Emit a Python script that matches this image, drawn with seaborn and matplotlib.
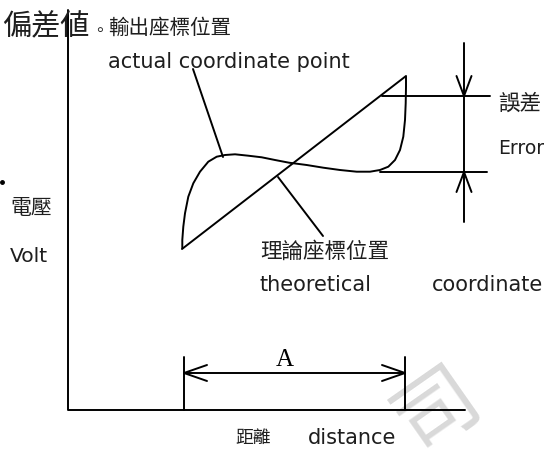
import numpy as np
import pandas as pd
import matplotlib
matplotlib.use("Agg")
import matplotlib.pyplot as plt
import seaborn as sns

# ---- diagram data (pixel-space coordinates) ----
theory_x = [182, 406]
theory_y = [249, 76]

actual_x = [182.3, 182.3, 183.3, 185.0, 188.3, 193.3, 200.0, 208.3, 216.7, 225.0,
            235.0, 248.3, 261.7, 275.0, 289.0, 306.7, 323.3, 340.0, 356.7, 370.0,
            380.0, 388.3, 395.0, 400.0, 403.3, 405.0, 405.7, 406.0, 406.0]
actual_y = [248.3, 240.0, 226.7, 213.3, 196.7, 183.3, 171.7, 161.7, 156.7, 155.0,
            154.3, 155.7, 157.3, 160.0, 162.7, 165.0, 167.7, 170.0, 171.7, 171.7,
            170.0, 166.7, 160.0, 150.0, 136.7, 120.0, 103.3, 86.7, 76.7]

axis_x = [68, 68, 465]
axis_y = [10, 410, 410]

err_x = 464
err_top, err_bottom = 96, 172
err_line_ends = (43, 222)
err_ref_top_x = [382, 490]
err_ref_bot_x = [380, 487]

dim_left, dim_right = 184, 405
dim_y = 373
dim_tick_top = 357

leader_actual = ([193, 223], [69, 157])
leader_theory = ([278, 323], [177, 236])

LW = 1.4
CJK = ["Noto Sans CJK TC", "DejaVu Sans"]
LAT = ["DejaVu Sans"]
TXT = "#1e1e1e"

sns.set_theme(style="white")
plt.rcParams["font.family"] = CJK

fig = plt.figure(figsize=(5.46, 4.49), dpi=100)
ax = fig.add_axes([0, 0, 1, 1])
ax.set_xlim(0, 546)
ax.set_ylim(449, 0)
ax.axis("off")

# watermark
ax.text(438, 409, "司", fontsize=60, color="#d9d9d9", rotation=35,
        ha="center", va="center", family=CJK, zorder=0, clip_on=True)

def seg(xs, ys):
    sns.lineplot(x=xs, y=ys, sort=False, estimator=None, color="black",
                 linewidth=LW, ax=ax, legend=False)

def head(tip_x, tip_y, dx, dy, length=20, half=7.5):
    # open V arrowhead; (dx, dy) unit direction the arrow points to
    px, py = -dy, dx
    bx, by = tip_x - dx * length, tip_y - dy * length
    seg([bx + px * half, tip_x, bx - px * half], [by + py * half, tip_y, by - py * half])

# axes
seg(axis_x, axis_y)
# theoretical line and actual curve
seg(theory_x, theory_y)
seg(actual_x, actual_y)
# leaders
seg(*leader_actual)
seg(*leader_theory)
# error dimension
seg(err_ref_top_x, [err_top, err_top])
seg(err_ref_bot_x, [err_bottom, err_bottom])
seg([err_x, err_x], [err_line_ends[0], err_line_ends[1]])
head(err_x, err_top, 0, 1, length=20, half=7.5)
head(err_x, err_bottom, 0, -1, length=20, half=7.5)
# A dimension
seg([dim_left, dim_left], [dim_tick_top, axis_y[-1]])
seg([dim_right, dim_right], [dim_tick_top, axis_y[-1]])
seg([dim_left, dim_right], [dim_y, dim_y])
head(dim_left, dim_y, -1, 0, length=23, half=8)
head(dim_right, dim_y, 1, 0, length=23, half=8)

# small dot on the left
ax.plot([2], [182], marker="o", markersize=2.5, color="black")

# texts
ax.text(2, 27, "偏差値", fontsize=21, ha="left", va="center", family=CJK, color=TXT)
ax.text(91, 31, "。", fontsize=12, ha="left", va="center", family=CJK, color=TXT)
ax.text(108, 28, "輸出座標位置", fontsize=14.8, ha="left", va="center", family=CJK, color=TXT)
ax.text(108, 62, "actual coordinate point", fontsize=15, ha="left", va="center", family=LAT, color=TXT)
ax.text(260, 252, "理論座標位置", fontsize=15.5, ha="left", va="center", family=CJK, color=TXT)
ax.text(260, 285, "theoretical", fontsize=15, ha="left", va="center", family=LAT, color=TXT)
ax.text(432, 285, "coordinate", fontsize=15, ha="left", va="center", family=LAT, color=TXT)
ax.text(498, 104, "誤差", fontsize=15.5, ha="left", va="center", family=CJK, color=TXT)
ax.text(498, 149, "Error", fontsize=13.5, ha="left", va="center", family=LAT, color=TXT)
ax.text(10, 208, "電壓", fontsize=15, ha="left", va="center", family=CJK, color=TXT)
ax.text(10, 257, "Volt", fontsize=14.6, ha="left", va="center", family=LAT, color=TXT)
ax.text(235, 438, "距離", fontsize=12.8, ha="left", va="center", family=CJK, color=TXT)
ax.text(308, 438, "distance", fontsize=15, ha="left", va="center", family=LAT, color=TXT)
ax.text(285, 360, "A", fontsize=18, ha="center", va="center",
        family=["Liberation Serif", "DejaVu Serif"], color="black")

fig.savefig("out.png", dpi=100)
